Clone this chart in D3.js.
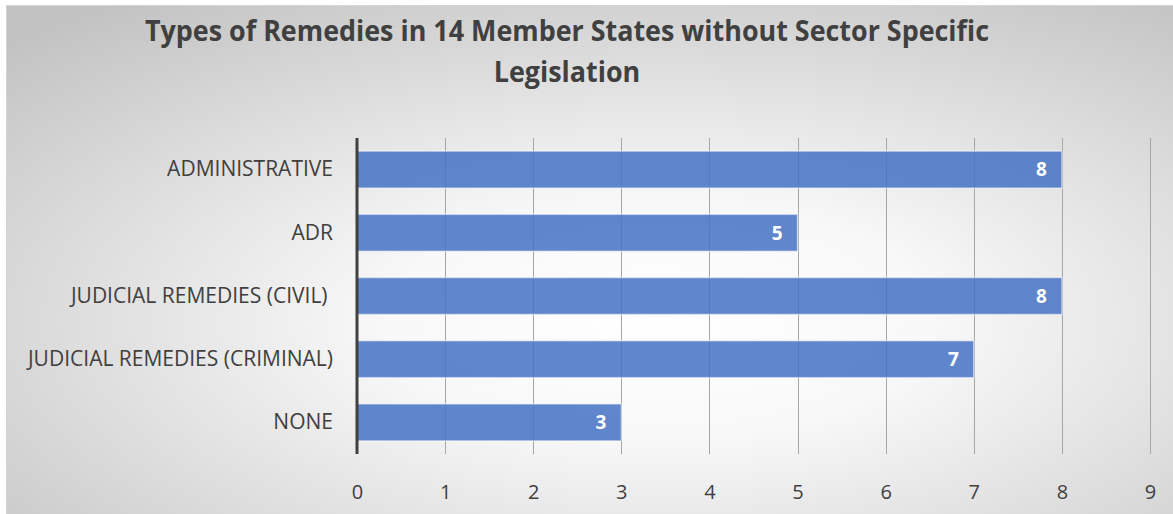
<!DOCTYPE html>
<html>
<head>
<meta charset="utf-8">
<script src="https://cdn.jsdelivr.net/npm/d3@7"></script>
<style>
  body { margin: 0; background: #fff; }
  svg { display: block; }
  text { font-family: 'Open Sans', sans-serif; fill: #404040; white-space: pre; }
</style>
</head>
<body>
<div id="chart"></div>
<script>
const width = 1173;
const height = 514;
const marginTop = 138;
const marginBottom = 60;
const marginLeft = 357;
const marginRight = 23;

const categories = ['ADMINISTRATIVE', 'ADR', 'JUDICIAL REMEDIES (CIVIL) ', 'JUDICIAL REMEDIES (CRIMINAL)', 'NONE'];
const counts = [8, 5, 8, 7, 3];
const xTicks = [0, 1, 2, 3, 4, 5, 6, 7, 8, 9];
const titleLines = ['Types of Remedies in 14 Member States without Sector Specific', 'Legislation'];

const data = categories.map((c, i) => ({ cat: c, val: counts[i] }));

const svg = d3.select('#chart')
    .append('svg')
    .attr('width', width)
    .attr('height', height);

// background with radial gradient
const grad = svg.append('defs')
    .append('radialGradient')
    .attr('id', 'bg')
    .attr('cx', 0.56)
    .attr('cy', 0.62)
    .attr('r', 0.78);
grad.append('stop').attr('offset', 0).attr('stop-color', '#ffffff');
grad.append('stop').attr('offset', 0.3).attr('stop-color', '#f8f8f8');
grad.append('stop').attr('offset', 1).attr('stop-color', '#c2c2c2');

svg.append('rect')
    .attr('x', 6)
    .attr('y', 5)
    .attr('width', width - 6)
    .attr('height', height - 5)
    .attr('fill', 'url(#bg)');
svg.append('path')
    .attr('d', `M6.5,${height} V5.5 H${width}`)
    .attr('fill', 'none')
    .attr('stroke', '#d4d4d4');

const x = d3.scaleLinear()
    .domain([0, 9])
    .range([marginLeft, width - marginRight]);

const y = d3.scaleBand()
    .domain(categories)
    .range([marginTop, height - marginBottom])
    .paddingInner(0.415)
    .paddingOuter(0.2075);

// gridlines
svg.append('g')
    .attr('class', 'grid')
    .selectAll('line')
    .data(xTicks.slice(1))
    .join('line')
    .attr('x1', (d) => Math.round(x(d)) + 0.5)
    .attr('x2', (d) => Math.round(x(d)) + 0.5)
    .attr('y1', marginTop)
    .attr('y2', height - marginBottom)
    .attr('stroke', '#a6a6a6')
    .attr('stroke-width', 1);

// bars
svg.append('g')
    .selectAll('rect')
    .data(data)
    .join('rect')
    .attr('x', x(0))
    .attr('y', (d) => y(d.cat))
    .attr('width', (d) => x(d.val) - x(0))
    .attr('height', y.bandwidth())
    .attr('fill', '#4472c4')
    .attr('fill-opacity', 0.85)
    .attr('stroke', '#ffffff')
    .attr('stroke-opacity', 0.5)
    .attr('stroke-width', 1.5);

// value labels
svg.append('g')
    .selectAll('text')
    .data(data)
    .join('text')
    .attr('x', (d) => x(d.val) - 15)
    .attr('y', (d) => y(d.cat) + y.bandwidth() / 2)
    .attr('dy', '0.36em')
    .style('text-anchor', 'end')
    .style('font-size', '19px')
    .style('font-weight', 'bold')
    .style('fill', '#ffffff')
    .text((d) => d.val);

// x axis
const xAxis = svg.append('g')
    .attr('class', 'xAxis')
    .attr('transform', `translate(0,${height - marginBottom})`)
    .call(d3.axisBottom(x).tickValues(xTicks).tickSize(0).tickPadding(31));
xAxis.select('.domain').remove();
xAxis.selectAll('text')
    .style('font-size', '20px')
    .style('font-family', "'Open Sans', sans-serif")
    .attr('fill', '#404040');

// y axis
const yAxis = svg.append('g')
    .attr('class', 'yAxis')
    .attr('transform', `translate(${marginLeft}, 0)`)
    .call(d3.axisLeft(y).tickSize(0).tickPadding(24));
yAxis.select('.domain').remove();
yAxis.selectAll('text')
    .style('font-size', '21px')
    .style('font-family', "'Open Sans', sans-serif")
    .attr('fill', '#404040');

svg.append('line')
    .attr('x1', x(0))
    .attr('x2', x(0))
    .attr('y1', marginTop)
    .attr('y2', height - marginBottom)
    .attr('stroke', '#404040')
    .attr('stroke-width', 3);

// title
svg.append('g')
    .attr('class', 'title')
    .selectAll('text')
    .data(titleLines)
    .join('text')
    .attr('x', 567)
    .attr('y', (d, i) => 41 + i * 41)
    .style('text-anchor', 'middle')
    .style('font-size', '28px')
    .style('font-weight', 'bold')
    .text((d) => d);

// condense title a bit to approximate Calibri widths
svg.selectAll('.title text').each(function () {
    const len = this.getComputedTextLength();
    d3.select(this)
        .attr('textLength', len * 0.96)
        .attr('lengthAdjust', 'spacingAndGlyphs');
});
</script>
</body>
</html>
